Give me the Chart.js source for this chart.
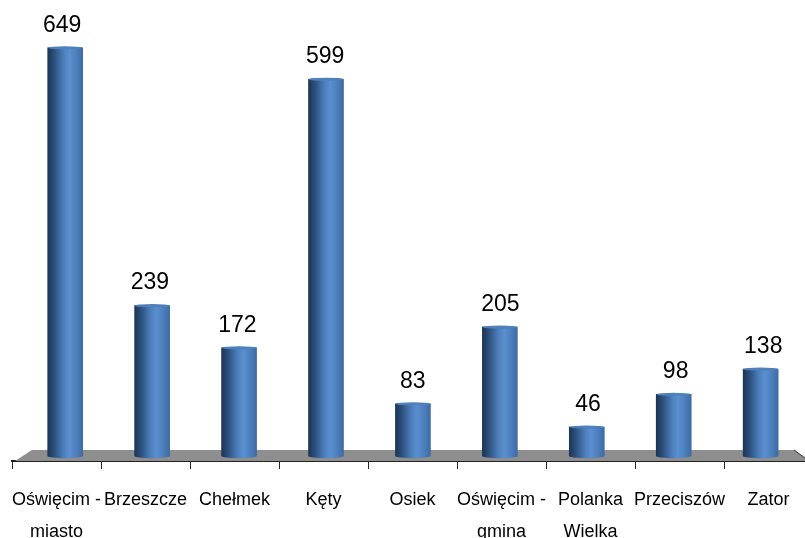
<!DOCTYPE html>
<html><head><meta charset="utf-8">
<style>html,body{margin:0;padding:0;background:#fff}#w{width:805px;height:538px;position:relative}</style>
<script src="https://cdn.jsdelivr.net/npm/chart.js@4"></script></head>
<body><div id="w"><canvas id="c" width="805" height="538"></canvas></div>
<script>
const categories = [["Oświęcim -","miasto"],["Brzeszcze"],["Chełmek"],["Kęty"],["Osiek"],["Oświęcim -","gmina"],["Polanka","Wielka"],["Przeciszów"],["Zator"]];
const values = [649,239,172,599,83,205,46,98,138];
const FONT = '"Liberation Sans", Arial, sans-serif';

function barGradient(ctx, cx, w){
  const g = ctx.createLinearGradient(cx-w/2,0,cx+w/2,0);
  g.addColorStop(0,'#1d3554');
  g.addColorStop(0.18,'#2b4f7c');
  g.addColorStop(0.45,'#4c7ebb');
  g.addColorStop(0.62,'#5a8fd0');
  g.addColorStop(0.85,'#4a7cb8');
  g.addColorStop(1,'#3e6ba3');
  return g;
}
const cylinder = {
  id:'cylinder',
  beforeDatasetsDraw(chart){
    const {ctx,chartArea:a}=chart;
    ctx.save();
    ctx.fillStyle='#8e8e8e';
    ctx.beginPath();
    ctx.moveTo(a.left+3,a.bottom);
    ctx.lineTo(a.left+20,a.bottom-11);
    ctx.lineTo(794,a.bottom-11);
    ctx.lineTo(a.right,a.bottom-3);
    ctx.lineTo(a.right,a.bottom);
    ctx.closePath();ctx.fill();
    ctx.strokeStyle='#333';ctx.lineWidth=1;
    ctx.beginPath();ctx.moveTo(794,a.bottom-11);ctx.lineTo(a.right,a.bottom-3);ctx.stroke();
    ctx.restore();
  },
  afterDatasetsDraw(chart){
    const {ctx}=chart;
    ctx.save();
    chart.getDatasetMeta(0).data.forEach((b,i)=>{
      const w=b.width,rx=w/2;
      ctx.fillStyle=barGradient(ctx,b.x,w);
      ctx.beginPath();ctx.ellipse(b.x,b.base,rx,2.2,0,0,Math.PI);ctx.fill();
      ctx.fillStyle='#4f80bb';
      ctx.beginPath();ctx.ellipse(b.x,b.y,rx,1.6,0,0,Math.PI*2);ctx.fill();
      ctx.fillStyle='#000';
      ctx.font='23px '+FONT;
      ctx.textAlign='center';ctx.textBaseline='middle';
      ctx.fillText(String(values[i]),b.x-3+i*0.7,b.y-22.5);
    });
    ctx.restore();
  }
};
new Chart(document.getElementById('c'),{
  type:'bar',
  data:{datasets:[{
    data:values.map((v,i)=>({x:i,y:v})),
    xAxisID:'xb',yAxisID:'y',
    barThickness:35,
    borderWidth:0,
    backgroundColor(c){
      const s=c.chart.scales.xb;
      const px=(s&&c.parsed)?s.getPixelForValue(c.parsed.x):NaN;
      return Number.isFinite(px)?barGradient(c.chart.ctx,px,35):'#4c7ebb';
    }
  }]},
  options:{
    responsive:false,animation:false,
    layout:{padding:{left:12,right:0,top:0,bottom:0}},
    plugins:{legend:{display:false},tooltip:{enabled:false}},
    scales:{
      xb:{type:'linear',display:false,offset:false,bounds:'data',min:-0.612,max:8.51},
      y:{display:false,bounds:'data',min:-8,max:725},
      x:{type:'linear',position:'bottom',offset:false,bounds:'data',min:0,max:8.91,
        afterFit(s){s.height=77;s.paddingLeft=0;s.paddingRight=0;},
        border:{color:'#222',width:2},
        grid:{offset:false,drawOnChartArea:false,drawTicks:true,tickLength:8,tickWidth:1,
          tickColor(c){return c.tick&&Number.isInteger(c.tick.value)?'#222':'rgba(0,0,0,0)';}},
        ticks:{stepSize:0.5,autoSkip:false,includeBounds:false,maxRotation:0,minRotation:0,padding:15,
          color:'#000',font:{family:FONT,size:18,lineHeight:1.78},
          callback(v){return Number.isInteger(v)?'':(categories[Math.floor(v)]||'');}}
      }
    }
  },
  plugins:[cylinder]
});
</script></body></html>
